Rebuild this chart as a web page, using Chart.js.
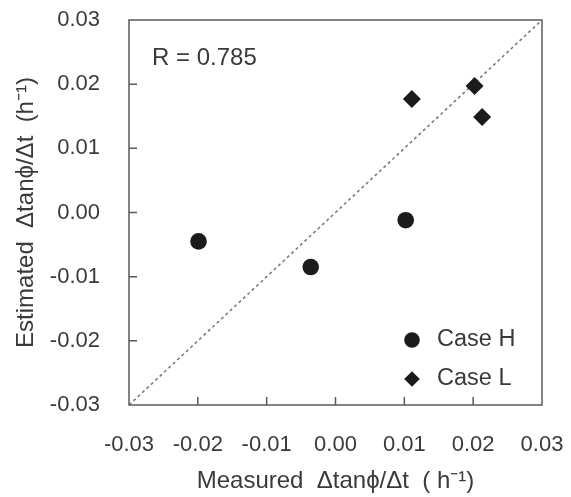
<!DOCTYPE html>
<html>
<head>
<meta charset="utf-8">
<script src="https://cdn.jsdelivr.net/npm/chart.js@4"></script>
<style>
  html, body { margin: 0; padding: 0; background: #fff; }
  #wrap { width: 571px; height: 497px; }
</style>
</head>
<body>
<div id="wrap"><canvas id="scatterChart" width="571" height="497"></canvas></div>
<script>
// measured vs estimated rate of change, per case
const caseH_measured = [-0.0199, -0.0036, 0.0102];
const caseH_estimated = [-0.0045, -0.0085, -0.0012];
const caseL_measured = [0.0111, 0.0202, 0.0213];
const caseL_estimated = [0.0177, 0.0197, 0.0149];
const oneToOne = [-0.03, 0.03];
const axisTicks = [-0.03, -0.02, -0.01, 0.00, 0.01, 0.02, 0.03];
const seriesLabels = ['Case H', 'Case L'];
const rValue = 0.785;

const TEXT = '#3a3a3a';
const FONT = 'Liberation Sans, Arial, sans-serif';

function toPoints(xs, ys) {
    let pts = [];
    for (let i = 0; i < xs.length; i++) {
        pts.push({x: xs[i], y: ys[i]});
    }
    return pts;
}

// frame, inward tick marks, R label and the legend box
const framePlugin = {
    id: 'frame',
    afterDatasetsDraw(chart) {
        const ctx = chart.ctx;
        const a = chart.chartArea;
        const xs = chart.scales.x;
        const ys = chart.scales.y;
        ctx.save();
        ctx.strokeStyle = '#5a5a5a';
        ctx.lineWidth = 1.5;
        ctx.strokeRect(a.left, a.top, a.right - a.left, a.bottom - a.top);

        ctx.beginPath();
        axisTicks.slice(1, -1).forEach(v => {
            const px = xs.getPixelForValue(v);
            ctx.moveTo(px, a.bottom);
            ctx.lineTo(px, a.bottom - 8);
            const py = ys.getPixelForValue(v);
            ctx.moveTo(a.left, py);
            ctx.lineTo(a.left + 8, py);
        });
        ctx.stroke();

        ctx.fillStyle = TEXT;
        ctx.font = '24px ' + FONT;
        ctx.textBaseline = 'middle';
        ctx.textAlign = 'left';
        ctx.fillText('R = ' + rValue.toFixed(3), a.left + 23, a.top + 38);

        // legend
        ctx.font = '23.5px ' + FONT;
        const rows = [a.bottom - 65, a.bottom - 26];
        seriesLabels.forEach((lbl, i) => {
            const ds = chart.data.datasets[i];
            ctx.fillStyle = ds.backgroundColor;
            Chart.helpers.drawPoint(ctx, {
                pointStyle: ds.pointStyle,
                radius: 7.8,
                borderWidth: 0
            }, a.right - 130, rows[i]);
            ctx.fillStyle = TEXT;
            ctx.fillText(lbl, a.right - 105, rows[i]);
        });
        ctx.restore();
    }
};

const ctx = document.getElementById('scatterChart').getContext('2d');
new Chart(ctx, {
    type: 'scatter',
    data: {
        datasets: [{
            label: seriesLabels[0],
            data: toPoints(caseH_measured, caseH_estimated),
            pointStyle: 'circle',
            pointRadius: 8.3,
            backgroundColor: '#1b1b1b',
            borderWidth: 0
        }, {
            label: seriesLabels[1],
            data: toPoints(caseL_measured, caseL_estimated),
            pointStyle: 'rectRot',
            pointRadius: 9,
            backgroundColor: '#1b1b1b',
            borderWidth: 0
        }, {
            label: '1:1',
            type: 'line',
            data: toPoints(oneToOne, oneToOne),
            borderColor: '#7a7a7a',
            borderWidth: 1.6,
            borderDash: [3, 3],
            pointRadius: 0,
            fill: false
        }]
    },
    options: {
        responsive: false,
        animation: false,
        layout: { padding: { left: 0, top: 20, right: 29, bottom: 0 } },
        scales: {
            x: {
                type: 'linear',
                min: -0.03,
                max: 0.03,
                afterBuildTicks: s => { s.ticks = axisTicks.map(v => ({value: v})); },
                afterFit: s => { s.height = 92; s.paddingLeft = 0; s.paddingRight = 0; },
                grid: { display: false, drawTicks: false },
                border: { display: false },
                ticks: {
                    padding: 27,
                    color: TEXT,
                    font: { family: FONT, size: 22 },
                    callback: v => v.toFixed(2)
                },
                title: {
                    display: true,
                    text: 'Measured  \u0394tan\u03d5/\u0394t  ( h\u207b\u00b9)',
                    color: TEXT,
                    font: { family: FONT, size: 24 },
                    padding: { top: 0, bottom: 1 }
                }
            },
            y: {
                type: 'linear',
                min: -0.03,
                max: 0.03,
                afterBuildTicks: s => { s.ticks = axisTicks.map(v => ({value: v})); },
                afterFit: s => { s.width = 129; s.paddingTop = 0; s.paddingBottom = 0; },
                grid: { display: false, drawTicks: false },
                border: { display: false },
                ticks: {
                    padding: 29,
                    color: TEXT,
                    font: { family: FONT, size: 22 },
                    callback: v => v.toFixed(2)
                },
                title: {
                    display: true,
                    text: 'Estimated  \u0394tan\u03d5/\u0394t  (h\u207b\u00b9)',
                    color: TEXT,
                    font: { family: FONT, size: 24 },
                    padding: { top: 12, bottom: 0 }
                }
            }
        },
        plugins: {
            legend: { display: false },
            tooltip: { enabled: false }
        }
    },
    plugins: [framePlugin]
});
</script>
</body>
</html>
